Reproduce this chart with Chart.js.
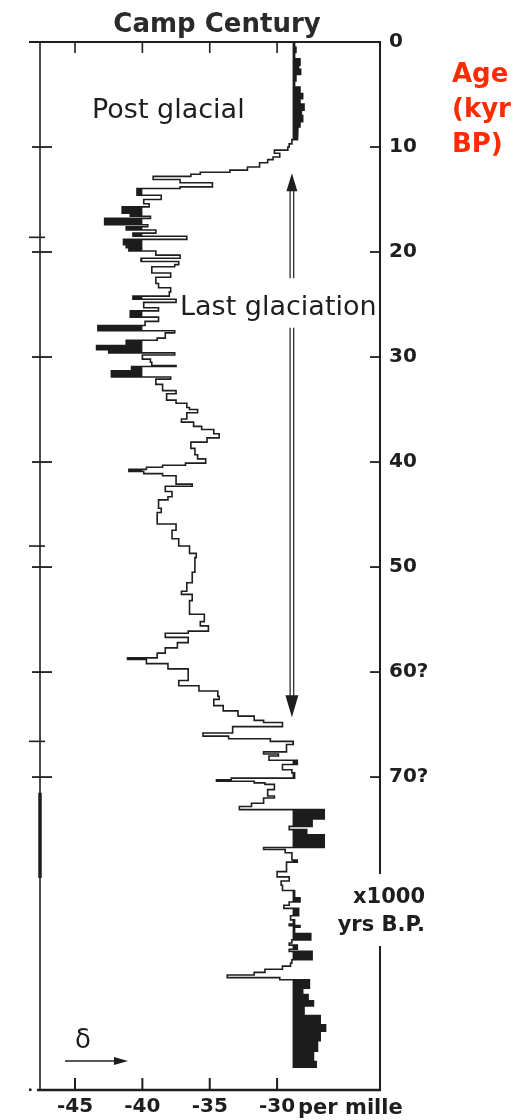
<!DOCTYPE html>
<html><head><meta charset="utf-8">
<script src="https://cdn.jsdelivr.net/npm/chart.js@4.4.1/dist/chart.umd.min.js"></script>
<style>html,body{margin:0;padding:0;background:#fff}canvas{display:block}</style>
</head><body>
<canvas id="c" width="529" height="1120"></canvas>
<script>
// ---- data read from the Camp Century profile ----
// start age (kyr BP) of each sample step and its delta-18O value (per mille)
const ageStart = [
  0.0,0.5,1.0,1.6,2.2,2.6,3.1,3.7,4.3,4.9,5.4,5.9,6.5,7.0,7.6,8.1,8.7,9.3,9.7,10.0,
  10.3,10.6,10.95,11.2,11.5,11.9,12.2,12.4,12.6,12.8,13.1,13.4,13.8,13.95,14.6,15.0,15.4,15.7,16.3,16.6,
  16.8,17.4,17.6,17.9,18.2,18.5,18.8,19.3,19.6,19.9,20.3,20.6,20.9,21.2,21.4,22.0,22.4,23.0,23.4,23.8,
  24.2,24.5,24.8,25.3,25.6,26.2,26.6,27.0,27.5,27.7,28.2,28.4,28.9,29.3,29.6,29.8,30.2,30.5,30.8,30.9,
  31.3,31.9,32.1,32.6,33.2,33.5,34.1,34.4,34.8,35.0,35.3,35.9,36.2,36.6,36.9,37.3,37.7,38.1,38.7,39.3,
  39.7,40.1,40.3,40.5,40.7,40.9,41.1,41.3,42.1,42.3,42.8,43.3,43.6,44.4,44.8,45.9,46.5,47.3,48.0,48.7,
  49.1,50.5,51.5,52.3,52.6,53.2,54.5,55.2,55.6,56.1,56.3,56.7,57.2,57.7,58.2,58.65,58.8,59.2,59.7,60.8,
  61.3,61.8,62.3,62.6,63.2,63.7,64.2,64.6,64.8,65.2,65.8,66.1,66.35,66.6,66.9,67.6,67.8,68.0,68.4,68.8,
  69.3,69.6,70.1,70.25,70.4,70.55,70.7,71.2,71.8,72.0,72.5,72.8,73.1,74.0,74.7,75.0,75.5,76.7,76.9,77.2,
  77.9,78.1,79.0,79.5,79.9,80.3,80.8,81.5,81.9,82.2,82.5,83.2,83.6,84.0,84.15,84.3,84.9,85.5,85.8,86.0,
  86.4,86.6,87.4,87.7,88.0,88.3,88.6,88.85,89.1,89.3,90.1,90.7,91.3,91.8,92.7,93.6,94.2,95.1,96.1,97.1
];
const delta18O = [
  -28.7,-28.6,-28.7,-28.3,-28.4,-28.25,-28.6,-28.7,-28.3,-28.1,-28.3,-28.0,-28.2,-28.1,-28.3,-28.45,-28.5,-28.9,-29.1,-29.2,
  -30.2,-29.8,-30.3,-30.7,-31.3,-32.2,-33.5,-35.7,-36.4,-39.2,-37.2,-34.8,-37.2,-40.4,-38.6,-39.9,-39.5,-41.5,-40.9,-39.4,
  -42.8,-39.6,-41.2,-39.0,-40.7,-36.7,-41.4,-41.2,-41.0,-39.0,-37.2,-40.1,-37.3,-37.6,-39.3,-37.9,-39.0,-38.8,-37.9,-38.0,
  -40.7,-37.5,-39.9,-38.8,-40.9,-38.8,-39.8,-43.3,-37.6,-38.3,-38.9,-41.2,-43.4,-42.5,-37.6,-40.0,-39.4,-39.3,-37.5,-40.8,
  -42.3,-37.9,-39.0,-38.5,-37.5,-38.2,-37.5,-36.7,-36.5,-35.9,-36.7,-37.1,-36.2,-35.6,-34.7,-34.3,-35.2,-36.4,-36.1,-35.9,
  -35.3,-36.8,-38.5,-39.7,-41.0,-39.9,-38.5,-37.5,-36.3,-38.3,-37.8,-38.1,-38.8,-38.6,-38.9,-37.5,-37.8,-37.3,-36.5,-36.0,
  -36.1,-36.3,-36.7,-37.1,-36.3,-36.5,-35.4,-35.7,-35.1,-36.6,-38.3,-36.6,-37.4,-38.3,-38.9,-41.1,-39.7,-38.1,-36.6,-37.3,
  -35.8,-34.4,-34.3,-34.7,-34.0,-32.9,-31.7,-31.0,-29.6,-33.3,-35.5,-33.6,-30.5,-28.8,-29.3,-31.0,-29.9,-30.6,-28.5,-29.6,
  -28.9,-28.7,-33.4,-34.5,-31.7,-30.9,-30.2,-30.7,-30.2,-31.0,-31.9,-32.8,-26.5,-27.4,-29.1,-27.8,-26.5,-31.0,-29.4,-28.9,
  -28.5,-29.3,-30.0,-29.1,-29.7,-29.6,-28.7,-28.3,-29.1,-29.5,-28.4,-29.0,-28.7,-29.1,-28.3,-28.7,-27.5,-28.9,-29.1,-28.5,
  -29.1,-27.4,-28.9,-29.0,-29.6,-30.9,-31.7,-33.7,-29.8,-27.6,-28.1,-27.7,-27.3,-28.0,-26.8,-26.4,-26.8,-27.0,-27.3,-27.1
];
const ageEnd = 97.7;

const xTickValues = [-45, -40, -35, -30];
const xTickLabels = ['-45', '-40', '-35', '-30'];
const yTickValues = [0, 10, 20, 30, 40, 50, 60, 70];
const yTickLabels = ['0', '10', '20', '30', '40', '50', '60?', '70?'];
const leftMarkAges = [18.6, 48.0, 66.6];
const leftBarAges = [71.5, 79.6];
const coldLimit = -40;    // shaded where colder than this
const warmLimit = -28.85; // shaded where warmer than this
const glacialArrow = { delta: -28.9, from: 12.5, to: 64.3, gapFrom: 22.5, gapTo: 27.2 };

const ink = '#1e1e1e';
const red = '#fe2b00';

function steps(fn) {
  const pts = [];
  for (let i = 0; i < ageStart.length; i++) {
    const top = ageStart[i];
    const bottom = i + 1 < ageStart.length ? ageStart[i + 1] : ageEnd;
    const v = fn(delta18O[i]);
    pts.push({ x: v, y: top }, { x: v, y: bottom });
  }
  return pts;
}

function seg(ctx, x1, y1, x2, y2, w) {
  ctx.lineWidth = w;
  ctx.beginPath(); ctx.moveTo(x1, y1); ctx.lineTo(x2, y2); ctx.stroke();
}
function tri(ctx, pts) {
  ctx.beginPath(); ctx.moveTo(pts[0][0], pts[0][1]);
  for (let i = 1; i < pts.length; i++) ctx.lineTo(pts[i][0], pts[i][1]);
  ctx.closePath(); ctx.fill();
}

const deco = {
  id: 'deco',
  afterDraw(chart) {
    const { ctx, chartArea: a, scales: { x, y } } = chart;
    ctx.save();
    ctx.strokeStyle = ink; ctx.fillStyle = ink; ctx.lineCap = 'butt';
    // frame
    seg(ctx, 29, a.top, a.right + 1, a.top, 2);
    seg(ctx, a.left, a.top, a.left, a.bottom, 1.6);
    seg(ctx, a.left, y.getPixelForValue(leftBarAges[0]), a.left, y.getPixelForValue(leftBarAges[1]), 3.5);
    seg(ctx, a.left - 3, a.bottom, a.right + 1, a.bottom, 2.5);
    ctx.fillRect(29, a.bottom - 1.5, 2.5, 2.5);
    seg(ctx, a.right, a.top, a.right, 874, 2);
    seg(ctx, a.right, 946, a.right, a.bottom, 2);
    // x ticks (inward, top and bottom)
    xTickValues.forEach(v => {
      const px = x.getPixelForValue(v);
      seg(ctx, px, a.top, px, a.top + 11, 1.6);
      seg(ctx, px, a.bottom, px, a.bottom - 12, 2);
    });
    // y ticks: right inward, left crossing
    yTickValues.forEach(v => {
      const py = y.getPixelForValue(v);
      seg(ctx, a.right - 10, py, a.right, py, 1.8);
      if (v > 0) seg(ctx, a.left - 8, py, a.left + 12, py, 1.8);
    });
    leftMarkAges.forEach(v => {
      const py = y.getPixelForValue(v);
      seg(ctx, a.left - 11, py, a.left + 5, py, 1.6);
    });
    // Last glaciation double arrow
    const ax = x.getPixelForValue(glacialArrow.delta);
    const yT = y.getPixelForValue(glacialArrow.from);
    const yB = y.getPixelForValue(glacialArrow.to);
    const g1 = y.getPixelForValue(glacialArrow.gapFrom);
    const g2 = y.getPixelForValue(glacialArrow.gapTo);
    [[yT + 16, g1], [g2, yB - 20]].forEach(([s, e]) => {
      seg(ctx, ax - 1.8, s, ax - 1.8, e, 1.2);
      seg(ctx, ax + 1.8, s, ax + 1.8, e, 1.2);
    });
    tri(ctx, [[ax, yT], [ax - 5.5, yT + 18], [ax + 5.5, yT + 18]]);
    tri(ctx, [[ax, yB], [ax - 6.5, yB - 22], [ax + 6.5, yB - 22]]);
    // texts
    ctx.textBaseline = 'alphabetic';
    ctx.fillStyle = '#2a2a2a';
    ctx.textAlign = 'center';
    ctx.font = 'bold 26px "DejaVu Sans"';
    ctx.fillText('Camp Century', 217, 32);
    ctx.textAlign = 'left';
    ctx.font = '27px "DejaVu Sans"';
    ctx.fillStyle = ink;
    ctx.fillText('Post glacial', 92, 118);
    ctx.fillText('Last glaciation', 180, 315);
    ctx.fillStyle = red;
    ctx.font = 'bold 26px "DejaVu Sans"';
    ctx.fillText('Age', 452, 82);
    ctx.fillText('(kyr', 452, 117);
    ctx.fillText('BP)', 452, 152);
    ctx.fillStyle = ink;
    ctx.textAlign = 'right';
    ctx.font = 'bold 21px "DejaVu Sans"';
    ctx.fillText('x1000', 425, 903);
    ctx.fillText('yrs B.P.', 425, 931);
    ctx.textAlign = 'left';
    ctx.font = 'bold 21px "DejaVu Sans"';
    ctx.fillText('per mille', x.getPixelForValue(-30) + 21, 1114);
    // delta direction arrow
    ctx.textAlign = 'center';
    ctx.font = '26px "DejaVu Sans"';
    ctx.fillText('δ', 83, 1048);
    ctx.strokeStyle = ink;
    seg(ctx, 65, 1061, 118, 1061, 1.5);
    tri(ctx, [[128, 1061], [114, 1057], [114, 1065]]);
    ctx.restore();
  }
};

new Chart(document.getElementById('c'), {
  type: 'line',
  data: {
    datasets: [
      { data: steps(v => Math.min(v, coldLimit)), borderWidth: 0, pointRadius: 0,
        backgroundColor: '#1c1c1c', fill: { value: coldLimit } },
      { data: steps(v => Math.max(v, warmLimit)), borderWidth: 0, pointRadius: 0,
        backgroundColor: '#1c1c1c', fill: { value: warmLimit } },
      { data: steps(v => v), borderColor: ink, borderWidth: 1.6, pointRadius: 0, fill: false,
        borderJoinStyle: 'miter' }
    ]
  },
  options: {
    indexAxis: 'y',
    responsive: false,
    animation: false,
    layout: { padding: { left: 40, top: 42, right: 0, bottom: 0 } },
    plugins: { legend: { display: false }, tooltip: { enabled: false }, title: { display: false } },
    scales: {
      x: {
        type: 'linear', position: 'bottom', min: -47.6, max: -22.36,
        grid: { display: false, drawTicks: false }, border: { display: false },
        afterBuildTicks: s => { s.ticks = xTickValues.map(v => ({ value: v })); },
        afterFit: s => { s.height = 30; },
        ticks: {
          padding: 5, color: ink, maxRotation: 0, autoSkip: false,
          font: { family: '"DejaVu Sans"', size: 20, weight: 'bold' },
          callback: (v) => xTickLabels[xTickValues.indexOf(v)]
        }
      },
      y: {
        type: 'linear', position: 'right', reverse: true, min: 0, max: 99.8,
        grid: { display: false, drawTicks: false }, border: { display: false },
        afterBuildTicks: s => { s.ticks = yTickValues.map(v => ({ value: v })); },
        afterFit: s => { s.width = 149; },
        ticks: {
          padding: 9, color: ink, autoSkip: false,
          font: { family: '"DejaVu Sans"', size: 20, weight: 'bold' },
          callback: (v) => yTickLabels[yTickValues.indexOf(v)]
        }
      }
    }
  },
  plugins: [deco]
});
</script>
</body></html>
